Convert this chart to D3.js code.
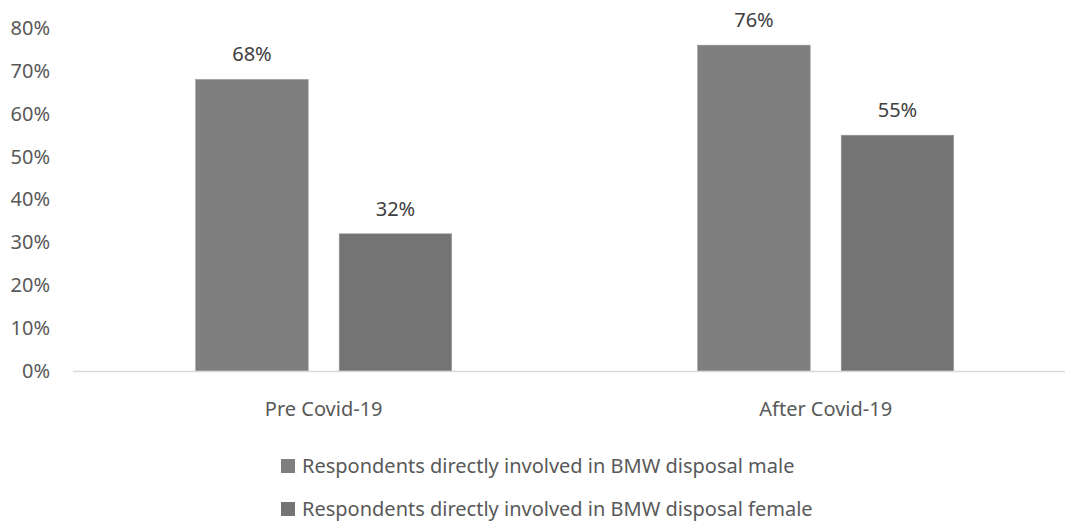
<!DOCTYPE html>
<html>
<head>
<meta charset="utf-8">
<script src="https://cdn.jsdelivr.net/npm/d3@7"></script>
<style>
  html, body { margin: 0; padding: 0; background: #ffffff; }
  svg { display: block; }
  text { font-family: "Noto Sans", sans-serif; }
</style>
</head>
<body>
<svg id="chart" width="1065" height="522"></svg>
<script>
// Share of respondents directly involved in BMW disposal, by gender
const categories = ["Pre Covid-19", "After Covid-19"];
const seriesNames = [
  "Respondents directly involved in BMW disposal male",
  "Respondents directly involved in BMW disposal female"
];
const maleValues = [68, 76];
const femaleValues = [32, 55];
const tickValues = [0, 10, 20, 30, 40, 50, 60, 70, 80];

const seriesColors = ["#7f7f7f", "#747474"];
const seriesValues = [maleValues, femaleValues];

const svg = d3.select("#chart");

const plot = { left: 72.7, right: 1076.7, top: 28, bottom: 371 };

const y = d3.scaleLinear()
  .domain([0, 80])
  .range([plot.bottom, plot.top]);

const x0 = d3.scaleBand()
  .domain(categories)
  .range([plot.left, plot.right])
  .paddingInner(0.49)
  .paddingOuter(0.245);

const x1 = d3.scaleBand()
  .domain(d3.range(seriesNames.length))
  .range([0, x0.bandwidth()])
  .paddingInner(0.216)
  .paddingOuter(0);

// Y axis: labels only
const yAxis = d3.axisLeft(y)
  .tickValues(tickValues)
  .tickFormat(d => d + "%")
  .tickSize(0)
  .tickPadding(0);

const yG = svg.append("g")
  .attr("transform", `translate(50,0)`)
  .call(yAxis);
yG.select(".domain").remove();
yG.selectAll("text")
  .attr("fill", "#595959")
  .style("font-size", "20px")
  .style("font-family", "'Noto Sans', sans-serif");

// Bars
const rows = categories.map((c, i) => ({ category: c, values: seriesValues.map(v => v[i]) }));

const groups = svg.append("g")
  .selectAll("g")
  .data(rows)
  .join("g")
  .attr("transform", d => `translate(${x0(d.category)},0)`);

groups.selectAll("rect")
  .data(d => d.values.map((v, s) => ({ s, v })))
  .join("rect")
  .attr("x", d => x1(d.s))
  .attr("width", x1.bandwidth())
  .attr("y", d => y(d.v))
  .attr("height", d => y(0) - y(d.v))
  .attr("fill", d => seriesColors[d.s])
  .attr("stroke", "#9a9a9a")
  .attr("stroke-width", 0.6);

// Value labels
groups.selectAll("text.value")
  .data(d => d.values.map((v, s) => ({ s, v })))
  .join("text")
  .attr("class", "value")
  .attr("x", d => x1(d.s) + x1.bandwidth() / 2)
  .attr("y", d => y(d.v) - 18)
  .attr("text-anchor", "middle")
  .attr("fill", "#404040")
  .style("font-size", "20px")
  .text(d => d.v + "%");

// X axis baseline and category labels
const xAxis = d3.axisBottom(x0).tickSize(0).tickPadding(0);
const xG = svg.append("g")
  .attr("transform", `translate(0,${plot.bottom})`)
  .call(xAxis);
xG.select(".domain")
  .attr("stroke", "#d9d9d9")
  .attr("stroke-width", 1.5);
xG.selectAll("text")
  .attr("dy", 0)
  .attr("y", 45)
  .attr("fill", "#595959")
  .style("font-size", "20px")
  .style("font-family", "'Noto Sans', sans-serif");

// Legend
const legend = svg.append("g")
  .selectAll("g")
  .data(seriesNames)
  .join("g")
  .attr("transform", (d, i) => `translate(281,${466 + i * 43})`);

legend.append("rect")
  .attr("x", 0)
  .attr("y", -7)
  .attr("width", 14)
  .attr("height", 14)
  .attr("fill", (d, i) => seriesColors[i]);

legend.append("text")
  .attr("x", 21)
  .attr("y", 0)
  .attr("dy", "0.35em")
  .attr("fill", "#595959")
  .style("font-size", "20px")
  .text(d => d);
</script>
</body>
</html>
